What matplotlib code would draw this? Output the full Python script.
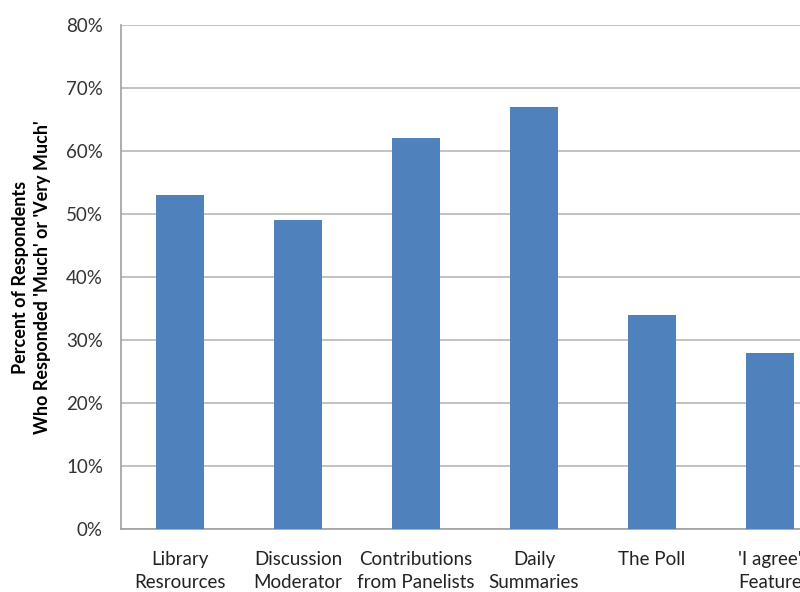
import matplotlib
matplotlib.use("Agg")
import matplotlib.pyplot as plt
from matplotlib.ticker import FuncFormatter, MultipleLocator

categories = ["Library\nResrources", "Discussion\nModerator", "Contributions\nfrom Panelists",
              "Daily\nSummaries", "The Poll", "'I agree'\nFeature"]
values = [53, 49, 62, 67, 34, 28]

plt.rcParams['font.family'] = ['Lato', 'DejaVu Sans']

fig = plt.figure(figsize=(8, 5.92), dpi=100)
ax = fig.add_axes([121/800, 63/592, 708/800, 504/592])

x = range(len(values))
ax.bar(x, values, width=0.4, color="#4F81BD", zorder=3)
ax.set_xlim(-0.5, len(values) - 0.5)
ax.set_ylim(0, 80)
ax.yaxis.set_major_locator(MultipleLocator(10))
ax.yaxis.set_major_formatter(FuncFormatter(lambda v, p: f"{int(v)}%"))
ax.set_xticks(list(x))
ax.set_xticklabels(categories, fontsize=13.5, color="#222222", linespacing=1.4)
ax.tick_params(axis='x', length=0, pad=16)
ax.tick_params(axis='y', length=0, pad=13, labelsize=13.5, labelcolor="#333333")
ax.grid(axis='y', color="#b8b8b8", linewidth=1.2, zorder=0)
for s in ["top", "right"]:
    ax.spines[s].set_visible(False)
for s in ["left", "bottom"]:
    ax.spines[s].set_color("#a0a0a0")
    ax.spines[s].set_linewidth(1.2)

ax.set_ylabel("Percent of Respondents\nWho Responded 'Much' or 'Very Much'",
              fontsize=13, fontweight='bold', labelpad=11, linespacing=1.3)

fig.savefig("out.png", dpi=100)
